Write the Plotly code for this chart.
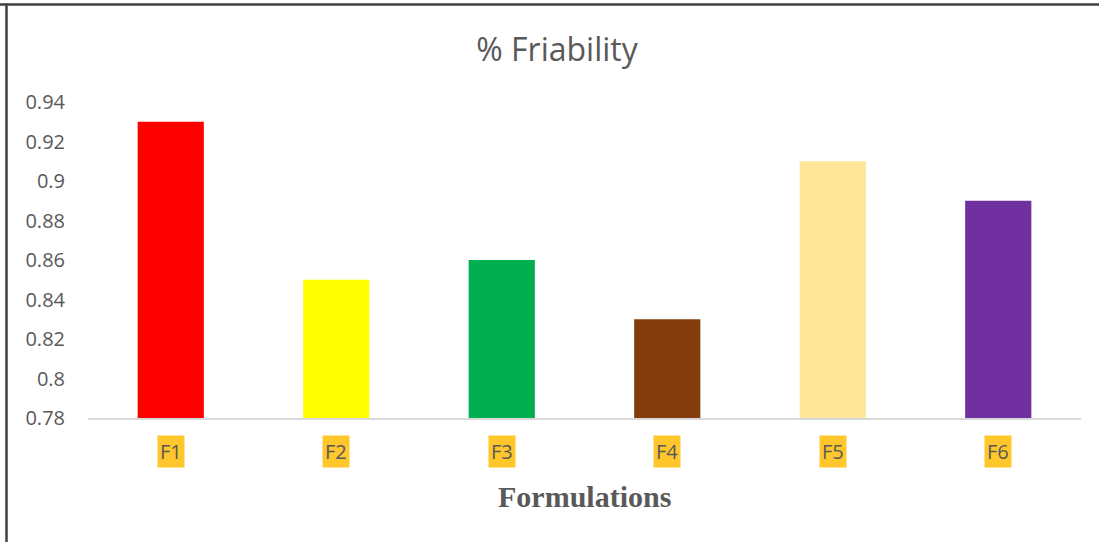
import plotly.graph_objects as go

categories = ["F1", "F2", "F3", "F4", "F5", "F6"]
friability = [0.93, 0.85, 0.86, 0.83, 0.91, 0.89]
bar_colors = ["#FF0000", "#FFFF00", "#00B050", "#843C0C", "#FFE699", "#7030A0"]
y_ticks = [0.78, 0.8, 0.82, 0.84, 0.86, 0.88, 0.9, 0.92, 0.94]
y_tick_text = ["0.78", "0.8", "0.82", "0.84", "0.86", "0.88", "0.9", "0.92", "0.94"]

W, H = 1099, 542
L, R, T, B = 88, 18, 102, 124
pw, ph = W - L - R, H - T - B

def px_x(px):
    return (px - L) / pw

def px_y(py):
    return (H - B - py) / ph

grey = "#595959"
font_sans = "Open Sans, Liberation Sans, sans-serif"

fig = go.Figure(go.Bar(
    x=categories, y=friability, marker=dict(color=bar_colors, line=dict(width=0)),
    width=0.4,
))

annotations = []
for c in categories:
    annotations.append(dict(
        x=c, xref="x", y=px_y(452), yref="paper", text=c, showarrow=False,
        font=dict(family=font_sans, size=20, color=grey),
        bgcolor="#FFC72C", borderpad=2, yanchor="middle", xanchor="center",
    ))
annotations.append(dict(
    x=0.5, xref="paper", y=px_y(496), yref="paper", text="<b>Formulations</b>",
    showarrow=False, font=dict(family="Liberation Serif, Times New Roman, serif", size=30, color=grey),
    yanchor="middle", xanchor="center",
))

fig.update_layout(
    width=W, height=H,
    margin=dict(l=L, r=R, t=T, b=B),
    paper_bgcolor="white", plot_bgcolor="white",
    showlegend=False,
    title=dict(text="% Friability", x=557 / W, xref="container", xanchor="center",
               y=1 - 50 / H, yref="container", yanchor="middle",
               font=dict(family=font_sans, size=32, color=grey)),
    xaxis=dict(showticklabels=False, showgrid=False, showline=True, linecolor="#D9D9D9",
               linewidth=2, ticks="", zeroline=False),
    yaxis=dict(range=[0.78, 0.94], tickvals=y_ticks, ticktext=y_tick_text, showgrid=False,
               showline=False, zeroline=False, ticks="", ticklabelstandoff=22,
               tickfont=dict(family=font_sans, size=20, color=grey)),
    annotations=annotations,
    shapes=[
        dict(type="line", xref="paper", yref="paper", x0=px_x(0), x1=px_x(W), y0=px_y(4.5), y1=px_y(4.5),
             line=dict(color="#404040", width=2.5)),
        dict(type="line", xref="paper", yref="paper", x0=px_x(6.5), x1=px_x(6.5), y0=px_y(3.5), y1=px_y(H),
             line=dict(color="#404040", width=2.5)),
    ],
)

fig.write_html("out.html")
